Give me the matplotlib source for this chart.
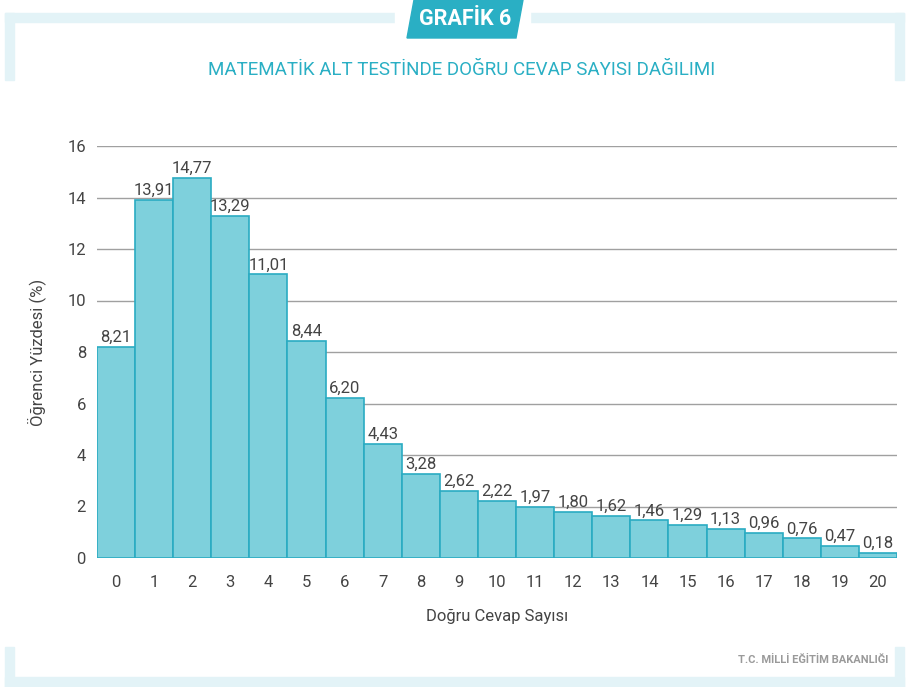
import matplotlib
matplotlib.use("Agg")
import matplotlib.pyplot as plt
from matplotlib.patches import Polygon, Rectangle
import numpy as np

# data
dogru_sayisi = list(range(21))
yuzde = [8.21, 13.91, 14.77, 13.29, 11.01, 8.44, 6.20, 4.43, 3.28, 2.62, 2.22,
         1.97, 1.80, 1.62, 1.46, 1.29, 1.13, 0.96, 0.76, 0.47, 0.18]
y_ticks = [0, 2, 4, 6, 8, 10, 12, 14, 16]

title = "MATEMATİK ALT TESTİNDE DOĞRU CEVAP SAYISI DAĞILIMI"
tab_text = "GRAFİK 6"
footer = "T.C. MİLLİ EĞİTİM BAKANLIĞI"

teal = "#2AAFC4"
bar_fill = "#7ED0DC"
bar_edge = "#2AABC2"
frame = "#E3F3F7"
text_col = "#444444"

plt.rcParams['font.family'] = ['Roboto', 'DejaVu Sans']

W, H = 909, 687
fig = plt.figure(figsize=(W / 100, H / 100), dpi=100)

# decorative frame (pixel coords -> figure fraction)
def px_rect(x0, y0, x1, y1, color):
    fig.patches.append(Rectangle((x0 / W, 1 - y1 / H), (x1 - x0) / W, (y1 - y0) / H,
                                 transform=fig.transFigure, color=color, zorder=0))

px_rect(5, 13, 904, 22, frame)      # top band
px_rect(5, 13, 14, 80, frame)       # left top
px_rect(895, 13, 904, 80, frame)    # right top
px_rect(5, 677, 904, 687, frame)    # bottom band
px_rect(5, 647, 14, 687, frame)     # left bottom
px_rect(895, 647, 904, 687, frame)  # right bottom
px_rect(395, 0, 530, 30, "white")

# tab with chart number
tab = [(407, 38), (516, 38), (523, 0), (414, 0)]
fig.patches.append(Polygon([(x / W, 1 - y / H) for x, y in tab], closed=True,
                           transform=fig.transFigure, color=teal, zorder=1))
fig.text(465 / W, 1 - 19 / H, tab_text, color="white", fontsize=15.5, fontweight="bold",
         ha="center", va="center")

fig.text(462 / W, 1 - 70 / H, title, color=teal, fontsize=13.5, ha="center", va="center")

fig.text(888 / W, 1 - 660 / H, footer, color="#9A9A9A", fontsize=8, fontweight="bold",
         ha="right", va="center")

ax = fig.add_axes([97 / W, 1 - 558 / H, 800 / W, 412 / H])
bars = ax.bar(dogru_sayisi, yuzde, width=1.0, color=bar_fill, edgecolor=bar_edge,
              linewidth=1.2, zorder=3)
for x, v in zip(dogru_sayisi, yuzde):
    ax.text(x, v + 0.08, f"{v:.2f}".replace(".", ","), ha="center", va="bottom",
            fontsize=12, color=text_col, zorder=4)

ax.set_xlim(-0.5, 20.5)
ax.set_ylim(0, 16)
ax.set_yticks(y_ticks)
ax.set_xticks(dogru_sayisi)
ax.yaxis.grid(True, color="#A0A0A0", linewidth=1)
ax.set_axisbelow(True)
for s in ax.spines.values():
    s.set_visible(False)
ax.tick_params(length=0, labelsize=12, labelcolor=text_col)
ax.tick_params(axis="y", pad=8)
ax.tick_params(axis="x", pad=12)
ax.set_xlabel("Doğru Cevap Sayısı", fontsize=12, color=text_col, labelpad=14)
ax.set_ylabel("Öğrenci Yüzdesi (%)", fontsize=12, color=text_col, labelpad=15)

fig.savefig("out.png", dpi=100)
